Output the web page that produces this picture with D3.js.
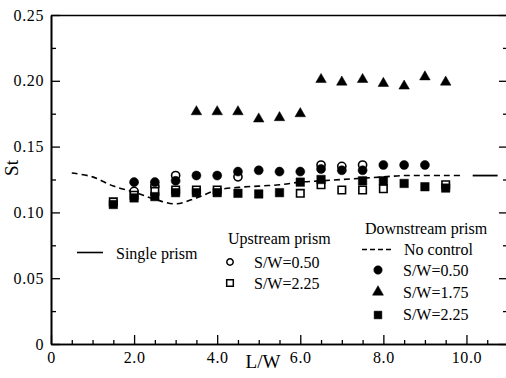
<!DOCTYPE html>
<html>
<head>
<meta charset="utf-8">
<script src="https://cdn.jsdelivr.net/npm/d3@7"></script>
<style>
  html, body { margin: 0; padding: 0; background: #fff; }
  svg { display: block; }
  text { font-family: "Liberation Serif", "Times New Roman", Times, "Nimbus Roman", "Nimbus Roman No9 L", "Tinos", "DejaVu Serif", "Noto Serif", "FreeSerif", serif; fill: #000; }
</style>
</head>
<body>
<svg id="chart" width="506" height="378"></svg>
<script>
// Strouhal number St against spacing ratio L/W
const xTickValues = [0, 2, 4, 6, 8, 10];
const xTickLabels = ["0", "2.0", "4.0", "6.0", "8.0", "10.0"];
const yTickValues = [0, 0.05, 0.10, 0.15, 0.20, 0.25];
const yTickLabels = ["0", "0.05", "0.10", "0.15", "0.20", "0.25"];

// Downstream prism, no control (dashed curve)
const noControlX = [0.5, 1.0, 1.5, 2.0, 2.5, 3.0, 3.5, 4.0, 4.5, 5.0, 5.5, 6.0, 6.5, 7.0, 7.5, 8.0, 8.5, 9.0, 9.5, 9.9];
const noControlSt = [0.130, 0.127, 0.120, 0.1155, 0.110, 0.1065, 0.111, 0.117, 0.119, 0.120, 0.121, 0.123, 0.124, 0.125, 0.126, 0.127, 0.128, 0.128, 0.128, 0.128];

// Single prism value
const singleX = [10.15, 10.75];
const singleSt = [0.128, 0.128];

// Upstream prism S/W = 0.50 (open circles)
const upCircleX = [2.0, 2.5, 3.0, 4.5, 6.5, 7.0, 7.5];
const upCircleSt = [0.116, 0.120, 0.128, 0.127, 0.136, 0.135, 0.136];

// Upstream prism S/W = 2.25 (open squares)
const upSquareX = [1.5, 2.0, 2.5, 3.0, 3.5, 4.0, 6.0, 6.5, 7.0, 7.5, 8.0, 9.5];
const upSquareSt = [0.108, 0.113, 0.116, 0.117, 0.117, 0.117, 0.1145, 0.121, 0.117, 0.117, 0.118, 0.121];

// Downstream prism S/W = 0.50 (filled circles)
const downCircleX = [2.0, 2.5, 3.0, 3.5, 4.0, 4.5, 5.0, 5.5, 6.0, 6.5, 7.0, 7.5, 8.0, 8.5, 9.0];
const downCircleSt = [0.123, 0.123, 0.124, 0.128, 0.128, 0.131, 0.132, 0.131, 0.131, 0.133, 0.132, 0.132, 0.136, 0.136, 0.136];

// Downstream prism S/W = 1.75 (filled triangles)
const downTriX = [3.5, 4.0, 4.5, 5.0, 5.5, 6.0, 6.5, 7.0, 7.5, 8.0, 8.5, 9.0, 9.5];
const downTriSt = [0.1765, 0.1765, 0.1765, 0.171, 0.172, 0.175, 0.201, 0.199, 0.201, 0.198, 0.196, 0.203, 0.199];

// Downstream prism S/W = 2.25 (filled squares)
const downSquareX = [1.5, 2.0, 2.5, 3.0, 3.5, 4.0, 4.5, 5.0, 5.5, 6.0, 6.5, 7.5, 8.0, 8.5, 9.0, 9.5];
const downSquareSt = [0.106, 0.111, 0.112, 0.115, 0.115, 0.115, 0.1145, 0.114, 0.115, 0.123, 0.125, 0.124, 0.124, 0.122, 0.1195, 0.1185];

const serif = '"Liberation Serif", "Times New Roman", Times, "Nimbus Roman", "Tinos", "DejaVu Serif", "Noto Serif", serif';

const svg = d3.select("#chart");
const x = d3.scaleLinear().domain([0, 11]).range([51, 508]);
const y = d3.scaleLinear().domain([0, 0.25]).range([344, 15]);

const zip = (xs, ys) => xs.map((v, i) => [v, ys[i]]);

// ---- axes ----
const axisG = svg.append("g");
const minorX = d3.range(0, 11.01, 0.5).filter(v => v % 2 !== 0);
const minorY = d3.range(0.025, 0.25, 0.05);

function styleAxis(g) {
  g.attr("font-family", null).attr("font-size", null);
  g.selectAll("path").attr("stroke", "#000").attr("stroke-width", 1.6);
  g.selectAll("line").attr("stroke", "#000").attr("stroke-width", 1.3);
  g.selectAll("text").style("font-size", "16px").style("letter-spacing", "0.6px")
    .style("font-family", serif);
}

axisG.append("g").attr("transform", `translate(0,${y(0)})`)
  .call(d3.axisBottom(x).tickValues(xTickValues).tickSize(-9).tickSizeOuter(0).tickPadding(8)
    .tickFormat((d, i) => xTickLabels[i]))
  .call(styleAxis);
axisG.append("g").attr("transform", `translate(0,${y(0)})`)
  .call(d3.axisBottom(x).tickValues(minorX).tickSize(-4).tickSizeOuter(0).tickFormat(""))
  .call(styleAxis);

axisG.append("g").attr("transform", `translate(${x(0)},0)`)
  .call(d3.axisLeft(y).tickValues(yTickValues).tickSize(-9).tickSizeOuter(0).tickPadding(7)
    .tickFormat((d, i) => yTickLabels[i]))
  .call(styleAxis);
axisG.append("g").attr("transform", `translate(${x(0)},0)`)
  .call(d3.axisLeft(y).tickValues(minorY).tickSize(-5).tickSizeOuter(0).tickFormat(""))
  .call(styleAxis);

axisG.append("g").attr("transform", `translate(${x(11)},0)`)
  .call(d3.axisRight(y).tickValues(yTickValues).tickSize(-9).tickSizeOuter(0).tickFormat(""))
  .call(styleAxis);
axisG.append("g").attr("transform", `translate(${x(11)},0)`)
  .call(d3.axisRight(y).tickValues(minorY).tickSize(-5).tickSizeOuter(0).tickFormat(""))
  .call(styleAxis);

axisG.append("g").attr("transform", `translate(0,${y(0.25)})`)
  .call(d3.axisTop(x).tickValues([]).tickSizeOuter(0))
  .call(styleAxis);

// axis titles
svg.append("text").attr("x", 263).attr("y", 368).attr("text-anchor", "middle")
  .style("font-family", serif).style("font-size", "19px").text("L/W");
svg.append("text").attr("transform", `translate(18,168) rotate(-90)`).attr("text-anchor", "middle")
  .style("font-family", serif).style("font-size", "19px").text("St");

// ---- lines ----
const line = d3.line().x(d => x(d[0])).y(d => y(d[1])).curve(d3.curveCatmullRom.alpha(0.5));
svg.append("path").datum(zip(noControlX, noControlSt)).attr("d", line)
  .attr("fill", "none").attr("stroke", "#000").attr("stroke-width", 1.6).attr("stroke-dasharray", "6,4");
svg.append("path").datum(zip(singleX, singleSt)).attr("d", d3.line().x(d => x(d[0])).y(d => y(d[1])))
  .attr("fill", "none").attr("stroke", "#000").attr("stroke-width", 1.8);

// ---- markers ----
const sym = (type, size) => d3.symbol().type(type).size(size)();
function drawMarkers(xs, ys, type, size, filled) {
  svg.append("g").selectAll("path").data(zip(xs, ys)).join("path")
    .attr("transform", d => `translate(${x(d[0])},${y(d[1])})`)
    .attr("d", sym(type, size))
    .attr("fill", filled ? "#000" : "#fff")
    .attr("stroke", "#000")
    .attr("stroke-width", filled ? 0.5 : 1.6);
}
drawMarkers(upCircleX, upCircleSt, d3.symbolCircle, 52, false);
drawMarkers(upSquareX, upSquareSt, d3.symbolSquare, 56, false);
drawMarkers(downSquareX, downSquareSt, d3.symbolSquare, 72, true);
drawMarkers(downCircleX, downCircleSt, d3.symbolCircle, 64, true);
drawMarkers(downTriX, downTriSt, d3.symbolTriangle, 48, true);

// ---- legends ----
const leg = svg.append("g").style("font-size", "16px").style("font-family", serif);
function legText(tx, ty, s) {
  leg.append("text").attr("x", tx).attr("y", ty).attr("dy", "0.35em")
    .style("font-family", serif).text(s);
}
function legMarker(mx, my, type, size, filled) {
  leg.append("path").attr("transform", `translate(${mx},${my})`).attr("d", sym(type, size))
    .attr("fill", filled ? "#000" : "#fff").attr("stroke", "#000").attr("stroke-width", filled ? 0.5 : 1.5);
}

leg.append("line").attr("x1", 77).attr("x2", 103).attr("y1", 252.5).attr("y2", 252.5)
  .attr("stroke", "#000").attr("stroke-width", 1.6);
legText(116, 253, "Single prism");

legText(228, 238, "Upstream prism");
legMarker(230, 262, d3.symbolCircle, 32, false);
legText(254, 262, "S/W=0.50");
legMarker(230, 283, d3.symbolSquare, 44, false);
legText(254, 283, "S/W=2.25");

legText(365, 228, "Downstream prism");
leg.append("line").attr("x1", 362).attr("x2", 391).attr("y1", 249.5).attr("y2", 249.5)
  .attr("stroke", "#000").attr("stroke-width", 1.5).attr("stroke-dasharray", "5,3");
legText(404, 249, "No control");
legMarker(378, 270, d3.symbolCircle, 56, true);
legText(403, 270, "S/W=0.50");
legMarker(378, 292, d3.symbolTriangle, 52, true);
legText(403, 292, "S/W=1.75");
legMarker(378, 315, d3.symbolSquare, 60, true);
legText(403, 314, "S/W=2.25");
</script>
</body>
</html>
